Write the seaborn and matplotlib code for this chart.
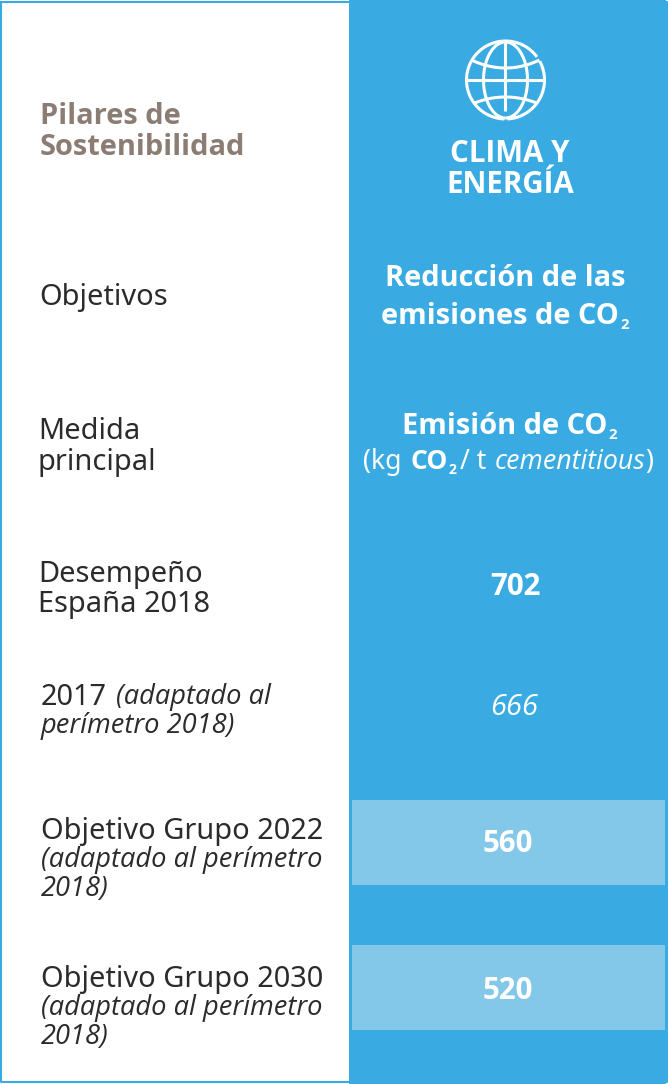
import pandas as pd
import numpy as np
import seaborn as sns
import matplotlib.pyplot as plt

# =====================================================
# 1. DANE
# =====================================================

AZUL = "#39abe2"
AZUL_CLARO = "#84c8e9"
MARRON = "#8b7d74"
NEGRO = "#2b2b2b"
BLANCO = "#ffffff"

PX = 0.72  # px -> pt przy dpi 100

NOTO = ["Noto Sans", "DejaVu Sans"]  # regular
OPEN = ["Open Sans", "DejaVu Sans"]  # bold i italic

df_obj = pd.DataFrame({
    "Centro": [842.5, 987.0],
    "Ancho": [313.0, 313.0]
})

etiquetas = [
    (40, 124, "Pilares de", 29, "bold", "normal", MARRON),
    (40, 155, "Sostenibilidad", 29, "bold", "normal", MARRON),
    (39, 305, "Objetivos", 29, "normal", "normal", NEGRO),
    (38, 439, "Medida", 29, "normal", "normal", NEGRO),
    (38, 470, "principal", 29, "normal", "normal", NEGRO),
    (38, 582, "Desempeño", 29, "normal", "normal", NEGRO),
    (38, 612, "España 2018", 29, "normal", "normal", NEGRO),
    (41, 705, "2017", 29, "normal", "normal", NEGRO),
    (116, 704, "(adaptado al", 27.3, "normal", "italic", NEGRO),
    (41, 733, "perímetro 2018)", 27.3, "normal", "italic", NEGRO),
    (41, 839, "Objetivo Grupo 2022", 29, "normal", "normal", NEGRO),
    (41, 867, "(adaptado al perímetro", 27.3, "normal", "italic", NEGRO),
    (41, 896, "2018)", 27.3, "normal", "italic", NEGRO),
    (41, 987, "Objetivo Grupo 2030", 29, "normal", "normal", NEGRO),
    (41, 1015, "(adaptado al perímetro", 27.3, "normal", "italic", NEGRO),
    (41, 1044, "2018)", 27.3, "normal", "italic", NEGRO),
]

valores = [
    (510, 162, "CLIMA Y", 29.5, "bold", "normal"),
    (510, 193, "ENERGÍA", 29.5, "bold", "normal"),
    (505, 286, "Reducción de las", 29, "bold", "normal"),
    (515, 595, "702", 29.5, "bold", "normal"),
    (514, 715, "666", 29, "normal", "italic"),
    (508, 852, "560", 29.5, "bold", "normal"),
    (508, 999, "520", 29.5, "bold", "normal"),
]

# =====================================================
# 2. FONDO Y CELDAS
# =====================================================

sns.set_style("white")

plt.figure(figsize=(6.68, 10.84), dpi=100, facecolor=BLANCO)
ax = plt.axes([0, 0, 1, 1])

plt.axvspan(349, 666, color=AZUL, lw=0, zorder=0)

sns.barplot(data=df_obj, x="Ancho", y="Centro", orient="y", native_scale=True,
            left=352, width=85 / 144.5, color=AZUL_CLARO, saturation=1,
            linewidth=0, zorder=2)

plt.xlim(0, 668)
plt.ylim(1084, 0)
plt.axis("off")

# marco
plt.plot([1, 666.5, 666.5, 1, 1], [1.5, 1.5, 1082, 1082, 1.5], color=AZUL, lw=1.5)

# =====================================================
# 3. GLOBO
# =====================================================

estilo = dict(color=BLANCO, lw=2.2, solid_capstyle="butt", zorder=3)

t1 = np.linspace(-0.5, 1.52, 100)
t3 = np.linspace(1.60, 5.65, 200)
plt.plot(505.5 + 39 * np.cos(t1), 80 + 39 * np.sin(t1), **estilo)  # obwod
plt.plot(505.5 + 39 * np.cos(t3), 80 + 39 * np.sin(t3), **estilo)
plt.plot([467, 544], [80, 80], **estilo)
plt.plot([505, 505], [42, 111], **estilo)

t2 = np.linspace(0, np.pi, 100)
plt.plot(505.5 + 22 * np.sin(t2), 80 - 38 * np.cos(t2), **estilo)
plt.plot(505.5 - 22 * np.sin(t2), 80 - 38 * np.cos(t2), **estilo)

s = np.linspace(-1, 1, 60)
plt.plot(505.5 + 34 * s, 68 - 8 * s ** 2, **estilo)
plt.plot(505.5 + 31 * s, 97 + 6 * s ** 2, **estilo)

# =====================================================
# 4. TEXTOS
# =====================================================

for x, y, txt, tam, peso, est, col in etiquetas:
    fuente = NOTO if (peso == "normal" and est == "normal") else OPEN
    plt.text(x, y, txt, fontsize=tam * PX, fontweight=peso, fontstyle=est,
             family=fuente, color=col, ha="left", va="baseline")

for x, y, txt, tam, peso, est in valores:
    plt.text(x, y, txt, fontsize=tam * PX, fontweight=peso, fontstyle=est,
             family=OPEN, color=BLANCO, ha="center", va="baseline")

# teksty z indeksem
plt.text(381, 324, "emisiones de CO", fontsize=29 * PX, fontweight="bold", family=OPEN, color=BLANCO)
plt.text(620, 329, "2", fontsize=15 * PX, fontweight="bold", family=OPEN, color=BLANCO)

plt.text(402, 434, "Emisión de CO", fontsize=29 * PX, fontweight="bold", family=OPEN, color=BLANCO)
plt.text(608, 439, "2", fontsize=15 * PX, fontweight="bold", family=OPEN, color=BLANCO)

plt.text(363, 469, "(kg", fontsize=26.5 * PX, family=NOTO, color=BLANCO)
plt.text(411, 469, "CO", fontsize=26.5 * PX, fontweight="bold", family=OPEN, color=BLANCO)
plt.text(449, 474, "2", fontsize=14 * PX, fontweight="bold", family=OPEN, color=BLANCO)
plt.text(460, 469, "/ t", fontsize=26.5 * PX, family=NOTO, color=BLANCO)
plt.text(495, 469, "cementitious", fontsize=26.8 * PX, fontstyle="italic", family=OPEN, color=BLANCO)
plt.text(645, 469, ")", fontsize=26.5 * PX, family=NOTO, color=BLANCO)

# =====================================================
# 5. ZAPIS
# =====================================================

plt.savefig("out.png", dpi=100)
